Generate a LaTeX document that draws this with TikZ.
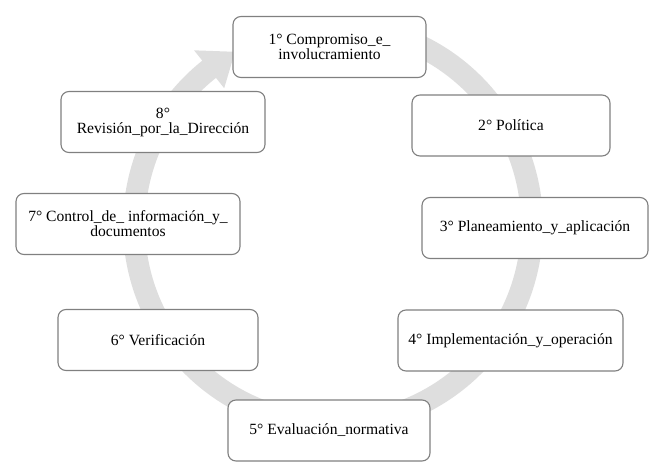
\documentclass[tikz,border=0pt]{standalone}
\usepackage{fontspec}
\setmainfont{LiberationSerif}[Extension=.ttf, UprightFont=*-Regular, BoldFont=*-Bold, ItalicFont=*-Italic, BoldItalicFont=*-BoldItalic]
\usetikzlibrary{calc}
\tikzset{
	stage/.style={draw=black!50, line width=1.1pt, fill=white, rounded corners=8pt, minimum height=61pt, align=center, inner sep=2pt, font=\fontsize{15.6}{15}\selectfont}
}
\def\ringarrow[#1](#2)(#3:#4:#5:#6){\fill[#1] ($(#2)+(#3:#5+#6/2)$) arc (#3:#4:#5+#6/2) -- ($(#2)+(#4:#5+2.2*#6/2)$) -- ($(#2)+(#4-9:#5)$) -- ($(#2)+(#4:#5-2.2*#6/2)$) -- ($(#2)+(#4:#5-#6/2)$) arc (#4:#3:#5-#6/2) -- cycle;}

\begin{document}
\begin{tikzpicture}[x=1pt, y=1pt]
		%%%%% START %%%%%
		
		\useasboundingbox (0, 0) rectangle (663, 471);
		
		\coordinate (hub) at (333, 246);
		\ringarrow[black!13](hub)(75:-231.5:199:22);
		
		\node[stage, minimum width=193pt] (s1) at (329.5, 424) {1° Compromiso\_e\_\\involucramiento};
		\node[stage, minimum width=198pt] (s2) at (511, 345.5) {2° Política};
		\node[stage, minimum width=226pt] (s3) at (535, 243) {3° Planeamiento\_y\_aplicación};
		\node[stage, minimum width=225pt] (s4) at (510.5, 130.5) {4° Implementación\_y\_operación};
		\node[stage, minimum width=202pt] (s5) at (329, 40.5) {5° Evaluación\_normativa};
		\node[stage, minimum width=200pt] (s6) at (158, 131) {6° Verificación};
		\node[stage, minimum width=224pt] (s7) at (128, 247) {7° Control\_de\_ información\_y\_\\documentos};
		\node[stage, minimum width=204pt] (s8) at (163, 349) {8°\\Revisión\_por\_la\_Dirección};
		
		%%%%% END %%%%%
	\end{tikzpicture}
\end{document}
